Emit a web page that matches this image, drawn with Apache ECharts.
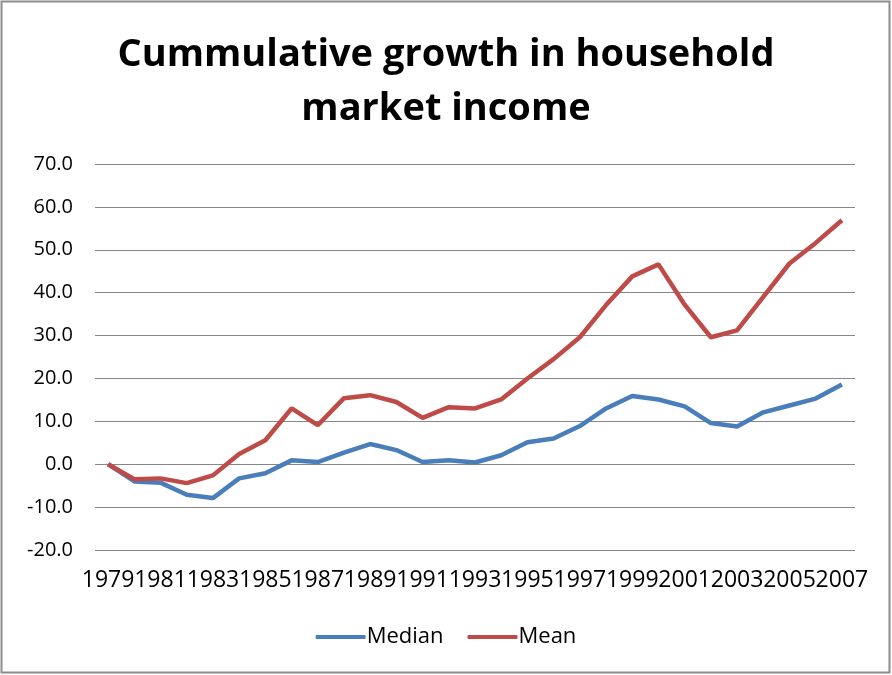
<!DOCTYPE html>
<html>
<head>
<meta charset="utf-8">
<script src="https://cdn.jsdelivr.net/npm/echarts@6/dist/echarts.min.js"></script>
<style>
  html, body { margin: 0; padding: 0; background: #fff; }
  #chart { width: 892px; height: 675px; }
</style>
</head>
<body>
<div id="chart"></div>
<script>
const years = [
  "1979", "1980", "1981", "1982", "1983", "1984", "1985", "1986", "1987", "1988",
  "1989", "1990", "1991", "1992", "1993", "1994", "1995", "1996", "1997", "1998",
  "1999", "2000", "2001", "2002", "2003", "2004", "2005", "2006", "2007",
]
const median = [
  0, -4.0, -4.3, -7.1, -7.9, -3.3, -2.1, 0.9, 0.5, 2.7,
  4.7, 3.3, 0.5, 0.9, 0.4, 2.1, 5.1, 6.0, 8.9, 13.0,
  15.9, 15.1, 13.5, 9.6, 8.8, 12.1, 13.7, 15.3, 18.6,
]
const mean = [
  0, -3.5, -3.3, -4.4, -2.6, 2.4, 5.6, 13.0, 9.1, 15.4,
  16.1, 14.5, 10.8, 13.3, 13.0, 15.1, 20.0, 24.5, 29.6, 37.1,
  43.8, 46.6, 37.2, 29.6, 31.2, 39.0, 46.8, 51.6, 56.9,
]
const yMin = -20
const yMax = 70
const yStep = 10

const font = "Open Sans"
const chart = echarts.init(document.getElementById("chart"))

const option = {
  backgroundColor: "#fff",
  animation: false,
  textStyle: { fontFamily: font },
  title: {
    text: "Cummulative growth in household\nmarket income",
    left: "center",
    top: 23,
    textStyle: {
      fontFamily: font,
      fontWeight: "bold",
      fontSize: 38,
      lineHeight: 54,
      color: "#000",
    },
  },
  legend: {
    bottom: 22,
    left: "center",
    itemWidth: 50,
    itemHeight: 4,
    itemGap: 24,
    icon: "roundRect",
    textStyle: { fontFamily: font, fontSize: 22, color: "#000", padding: [0, 0, 0, -4] },
    data: ["Median", "Mean"],
  },
  grid: {
    left: 95,
    right: 37,
    top: 164,
    bottom: 125,
    containLabel: false,
  },
  xAxis: {
    type: "category",
    data: years,
    boundaryGap: true,
    axisLine: { show: false },
    axisTick: { show: false },
    axisLabel: {
      interval: 1,
      color: "#000",
      fontSize: 23,
      margin: 19,
      fontFamily: font,
    },
    splitLine: { show: false },
  },
  yAxis: {
    type: "value",
    min: yMin,
    max: yMax,
    interval: yStep,
    axisLine: { show: false },
    axisTick: { show: false },
    axisLabel: {
      color: "#000",
      fontSize: 20,
      margin: 22,
      fontFamily: font,
      formatter: (v) => v.toFixed(1),
    },
    splitLine: { lineStyle: { color: "#868686", width: 1 } },
  },
  graphic: [
    {
      type: "rect",
      shape: { x: 1.5, y: 1.5, width: 888, height: 671 },
      style: { fill: "none", stroke: "#8c8c8c", lineWidth: 2 },
      silent: true,
    },
  ],
  series: [
    {
      name: "Median",
      type: "line",
      data: median,
      showSymbol: false,
      lineStyle: { color: "#4a7ebb", width: 4.5 },
      itemStyle: { color: "#4a7ebb" },
    },
    {
      name: "Mean",
      type: "line",
      data: mean,
      showSymbol: false,
      lineStyle: { color: "#be4b48", width: 4.5 },
      itemStyle: { color: "#be4b48" },
    },
  ],
}

chart.setOption(option)
</script>
</body>
</html>
